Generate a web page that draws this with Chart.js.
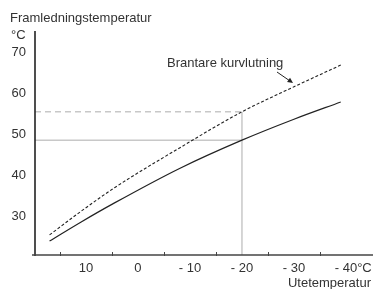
<!DOCTYPE html>
<html><head><meta charset="utf-8">
<script src="https://cdn.jsdelivr.net/npm/chart.js@4/dist/chart.umd.min.js"></script>
<style>html,body{margin:0;padding:0;background:#fff;}canvas{display:block;}</style>
</head><body>
<canvas id="c" width="373" height="289"></canvas>
<script>
// Data (outdoor temperature °C -> supply temperature °C)
const outdoorTemps = [17, 11, 4.5, -8, -20, -30, -39];
const normalCurve  = [23.9, 28.5, 33.2, 41.6, 48.5, 53.6, 57.8];
const steeperCurve = [25.4, 31.1, 36.9, 46.6, 55.4, 61.5, 66.8];
const xTickLabels = ['10', '0', '- 10', '- 20', '- 30', '- 40°C'];
const xTickLabelValues = [10, 0, -10, -20, -30, -40];
const xTickMarks = [15, 5, -5, -15, -25, -35];
const yTickLabels = ['70', '60', '50', '40', '30'];
const yTickValues = [70, 60, 50, 40, 30];
const refOutdoor = -20;
const refNormal = 48.5;
const refSteep = 55.4;
const xMin = -45.2, xMax = 19.8, yMin = 20.5, yMax = 75.1;

const FONT = '13px "Liberation Sans", Arial, sans-serif';
const TXT = '#333';

const pts = (xs, ys) => xs.map((x, i) => ({x, y: ys[i]}));

const decor = {
  id: 'decor',
  afterDraw(chart) {
    const {ctx, scales: {x, y}, chartArea: a} = chart;
    ctx.save();
    // axes
    ctx.strokeStyle = '#222';
    ctx.lineWidth = 1.6;
    ctx.beginPath();
    ctx.moveTo(a.left, a.top); ctx.lineTo(a.left, a.bottom + 1);
    ctx.stroke();
    ctx.strokeStyle = '#444';
    ctx.lineWidth = 1.4;
    ctx.beginPath();
    ctx.moveTo(a.left - 3, a.bottom); ctx.lineTo(a.right, a.bottom);
    ctx.stroke();
    ctx.lineWidth = 1;
    xTickMarks.forEach(v => {
      const px = Math.round(x.getPixelForValue(v)) + 0.5;
      ctx.beginPath(); ctx.moveTo(px, a.bottom - 3); ctx.lineTo(px, a.bottom + 1); ctx.stroke();
    });
    // labels
    ctx.fillStyle = TXT;
    ctx.font = FONT;
    ctx.textBaseline = 'middle';
    ctx.textAlign = 'right';
    yTickValues.forEach((v, i) => ctx.fillText(yTickLabels[i], 26, y.getPixelForValue(v)));
    ctx.textAlign = 'left';
    ctx.fillText('Framledningstemperatur', 10, 18);
    ctx.fillText('°C', 11, 35);
    xTickLabelValues.forEach((v, i) => {
      const lbl = xTickLabels[i];
      const px = x.getPixelForValue(v);
      if (lbl.endsWith('°C')) {
        const numW = ctx.measureText(lbl.replace('°C', '')).width;
        ctx.textAlign = 'left';
        ctx.fillText(lbl, px - numW / 2, 268);
      } else {
        ctx.textAlign = 'center';
        ctx.fillText(lbl, px, 268);
      }
    });
    ctx.textAlign = 'right';
    ctx.fillText('Utetemperatur', 371, 283);
    ctx.textAlign = 'left';
    ctx.fillText('Brantare kurvlutning', 167, 63);
    // arrow
    ctx.strokeStyle = '#222';
    ctx.fillStyle = '#222';
    ctx.lineWidth = 1;
    const x1 = 277, y1 = 72, x2 = 293, y2 = 83;
    ctx.beginPath(); ctx.moveTo(x1, y1); ctx.lineTo(x2 - 3, y2 - 2); ctx.stroke();
    const ang = Math.atan2(y2 - y1, x2 - x1);
    ctx.beginPath();
    ctx.moveTo(x2, y2);
    ctx.lineTo(x2 - 6 * Math.cos(ang - 0.45), y2 - 6 * Math.sin(ang - 0.45));
    ctx.lineTo(x2 - 6 * Math.cos(ang + 0.45), y2 - 6 * Math.sin(ang + 0.45));
    ctx.closePath(); ctx.fill();
    ctx.restore();
  }
};

new Chart(document.getElementById('c'), {
  type: 'scatter',
  data: {
    datasets: [
      { data: [{x: xMax, y: refSteep}, {x: refOutdoor, y: refSteep}], showLine: true,
        borderColor: '#c8c8c8', borderWidth: 1.5, borderDash: [6, 4], pointRadius: 0, order: 5 },
      { data: [{x: xMax, y: refNormal}, {x: refOutdoor, y: refNormal}], showLine: true,
        borderColor: '#c8c8c8', borderWidth: 1.5, pointRadius: 0, order: 5 },
      { data: [{x: refOutdoor, y: yMin}, {x: refOutdoor, y: refSteep}], showLine: true,
        borderColor: '#c8c8c8', borderWidth: 1.5, pointRadius: 0, order: 5 },
      { data: pts(outdoorTemps, steeperCurve), showLine: true, borderColor: '#222',
        borderWidth: 1.1, borderDash: [3, 2], pointRadius: 0, cubicInterpolationMode: 'monotone', order: 1 },
      { data: pts(outdoorTemps, normalCurve), showLine: true, borderColor: '#222',
        borderWidth: 1.2, pointRadius: 0, cubicInterpolationMode: 'monotone', order: 1 }
    ]
  },
  options: {
    responsive: false, animation: false, events: [],
    layout: { padding: { left: 35, right: 0, top: 31, bottom: 34 } },
    plugins: { legend: { display: false }, tooltip: { enabled: false } },
    scales: {
      x: { type: 'linear', reverse: true, min: xMin, max: xMax, display: false },
      y: { type: 'linear', min: yMin, max: yMax, display: false }
    }
  },
  plugins: [decor]
});
</script>
</body></html>
